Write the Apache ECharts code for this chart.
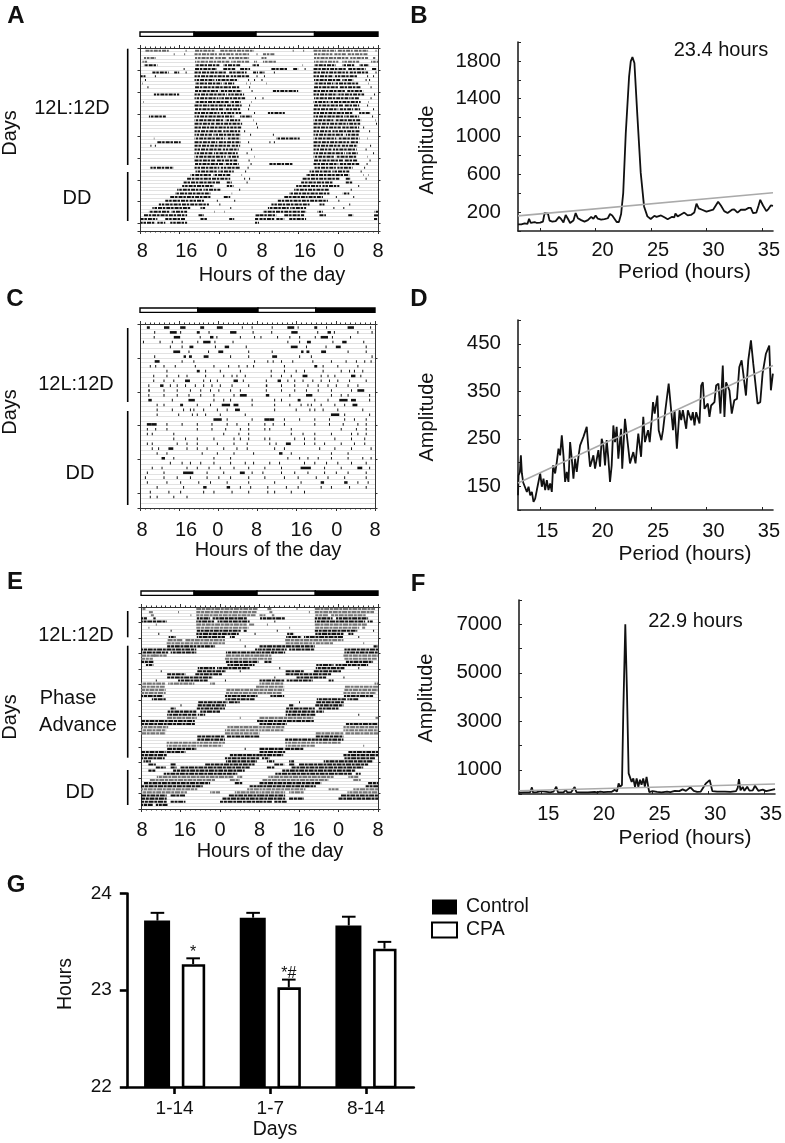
<!DOCTYPE html>
<html>
<head>
<meta charset="utf-8">
<title>Locomotor activity</title>
<script src="https://cdn.jsdelivr.net/npm/echarts@6/dist/echarts.min.js"></script>
<style>
  html, body { margin: 0; background: #fff; }
  #main { width: 785px; height: 1143px; }
</style>
</head>
<body>
<div id="main"></div>
<script>
// actogram days: hours after 08:00, [start, end] is a bout, a lone number is a short burst
const aDays = [
  [[1.1,5.8],9.2,[11.1,15],[16.2,23]],
  [6.8,8.9,[11,15.5],[15.9,18.9],[19.2,22],23.5],
  [[0.8,3.2],[11.1,14.8],[15.2,17.5],[17.9,22]],
  [[0.5,1.5],[11.1,18],[18.4,22],[23,23.6]],
  [[0.8,3.5],[11.1,16],[16.8,20.2],[22.6,24]],
  [[11.1,15.5],[16.8,19.2],[20.2,22.2],8.8],
  [[2.5,5.8],[6.9,7.9],9.2,[11,17.5],[18,21.5],[22.8,23.8]],
  [[0.1,1.1],3,[11,18],[18.3,22],23.5],
  [1,[11,15],[15.3,19.8],21.8,23],
  [0.5,[11.1,16.5],[16.8,19],21.5,22.2],
  [1.5,[11.1,15],[15.2,20],22],
  [[11.1,16],[16.3,20.5],22.5],
  [[2.8,7.9],[11,17.5],[17.8,21]],
  [[11,15.8],[16,21.2],23.2],
  [0.7,[11.1,18],[18.2,20.3],22.5],
  [[11,14],[14.2,20.5],22],
  [[11.1,17],[17.3,20.2],21.8],
  [[11,16],[16.3,19],[19.3,20.4],23],
  [[1.8,5.2],[11,19],[20.2,22.5]],
  [[11,17],[17.2,20.2],22.8],
  [[11,15],[15.3,20.6],23.4],
  [[11,18],[18.2,20.4],23.6],
  [[11,16.5],[16.8,20.2],21],
  [[11,14.5],[14.8,20.3],22.2],
  [2.8,[11,17.2],[17.5,20.2]],
  [[3.5,8.2],[11,15.6],[15.9,20.3],21.8],
  [2.1,3,[11,18.2],[18.5,20.2]],
  [[11,16.4],[16.7,19.9],22.4],
  [[11,14.6],[14.9,19.7],21.5],
  [[11,17.3],[17.6,19.9],23],
  [[11,15.2],[15.5,19.6],21.9],
  [[11.1,17],[17.3,19.9],22.3],
  [[2.1,6.8],[11,16],[16.3,20.2],21.7],
  [[11.2,15.5],[15.8,18.9],21.2],
  [[10.2,14.5],[14.8,18.2],20.5],
  [[9.5,18.2],21,22],
  [[8.8,16.2],[17.5,18.5],21.5],
  [[8.5,14.9],[17.5,18.9]],
  [[7.5,12.5],[12.8,16.2],20],
  [[7.1,14.2],18.5],
  [[6.1,14.2],[16.9,18.2]],
  [[5.1,9.8],[10,12.9],15.5,19],
  [[3.8,13.9],16],
  [[2.5,10.2],[12.2,13.2],18.2],
  [[1.8,6],[6.3,9.5],15,17],
  [[0.8,9.5],[11.8,12.9],[23.3,24]],
  [[0.1,3.5],[5.1,9.1],[12.2,13.5],[18,19],[23.2,24]],
  [[0.1,3.1],[3.5,5.1],[6.1,9.5],[23.2,24]],
  [],
  []
];
const cDays = [
  [[1.4,2],[4.9,6],[8.2,9.3],[12.3,13.1],[15.7,16.9],20.8,22.8],
  [2.9,[6.1,7.5],8.2,[11.6,12.2],14,[18.4,19.7],23],
  [2.8,[6.9,8.2],12.2,[14.3,15],15.6,20.4,23.3],
  [0.6,4,6.5,8.5,11.7,[12.9,14.4],15.2,18.9],
  [6.1,8.5,[10.1,10.9],15.3,[17.3,18.2],21.6],
  [[6.8,8.2],9.9,13.9,[16,17],22.1],
  [2.9,[8.9,9.4],[10,10.6],[13,14],18.4,22.1],
  [[3,4],8.5,10.9,23.3],
  [2,3.1,4.8,7.1,11.2,15,18,20.1,21.8,23.1],
  [5.4,[11.6,12.2],13.3,16.3,20.4],
  [2.7,5.4,7.8,9.5,13.3,17,18.7,19.7,21.4],
  [2.7,4.8,6.8,[9.2,10.2],12.9,14.3,15.7,[19.1,20],21],
  [1.7,[4.1,4.8],6.1,7.5,9.2,11.2,12.9,14.6,16.3,18.7,22.1],
  [[1.7,2],4.8,7.5,10.2,12.3,14.3,16,18.4,20.4],
  [1.7,4.8,7.5,9.9,12.3,15,19.1,[20.4,21.8]],
  [[1.7,2.4],6.5,[9.9,11.2],15,17,18.4,22.8],
  [3.4,4.8,[8.2,8.8],11.6,14.3,[16.7,18.4],[19.1,20.1],22.8],
  [3.4,6.5,8.8,10.2,10.9,12.9,15.7,17.7,[19.4,20.4]],
  [3.4,7.8,10.6,11.6,13.3,16.3,21.4],
  [[15,16.7],17.7,22.8],
  [[1.4,2.4],[2.4,3.4],5.4,8.5,11.6,14.6,17.7,19.7,22.1],
  [1.4,3.1,5.4,11.6,14.6,17.4,20.4,22.1],
  [1.4,2.4,6.8,17,20.1,22.1],
  [6.8,9.2,11.6,15,19.1,20.4,22.1],
  [1.4,2.4,7.5,9.5,11.6,15.7,19.1,21.8],
  [2.4,3.7,[5.8,6.8],9.5,11.6,13.6,17,19.7,21.8],
  [3.4,5.4,12.6,15.7,19.1,23.1],
  [[4.4,5.1],6.8,15,18.4],
  [6.1,8.5,10.2,12.3,15,18.4,21.4,23.1],
  [2.4,4.4,9.5,11.6,14,16.3,19.1,22.1],
  [1.4,4.8,[8.8,10.9],13.6,17,[20.4,21.4],22.8],
  [1,4.8,7.5,10.2,13.6,16,18.4,22.1],
  [1.4,5.4,8.2,11.9,14.3,17.7,22.1],
  [3.4,8.8,[12.9,13.6],[17.7,18.4],20.4,22.5],
  [2,5.8,8.2,12.9,15,18.7,22.1],
  [2,3.4,6.8,9.5],
  [],
  []
];
const eDays = [
  [[0.3,0.9],[11.2,23.6]],
  [[1.6,2.4],7.5,[11.2,23.4]],
  [[2,2.6],10,[11.2,23.2]],
  [[0,1.2],[2.5,3],[11.3,14],[14.5,21.5]],
  [[0.1,5.2],[11.2,14.8],[15.5,22]],
  [3,[11.2,21.4],[21.9,23]],
  [1.5,[11.2,21.8]],
  [6,[11.3,20.2],[20.8,21.4]],
  [3.5,[11.2,19.8],23],
  [[5.6,7],[11.3,17],[18,19]],
  [[5.4,8.5],[9,17],20],
  [[5.2,17]],
  [[5.3,11.2],[11.4,15],21],
  [[0,11.2],[23.1,24]],
  [[0,5.5],[6,11.2],[17.2,24]],
  [[0,3],[2.6,5.2],[17.2,24]],
  [[0,2.4],[17,24]],
  [[0,2.5],[17.2,23.8]],
  [[1,2.5],[17.5,23]],
  [[11.5,15],[15.4,22]],
  [4,[11.4,17.2],20],
  [[5.3,9],[11,16.5]],
  [[5.3,14.5]],
  [[7.5,13.5],3,17],
  [[0,5],[5.5,10.8],[14,15]],
  [[0,4.8],[23.3,24]],
  [[0,5],[17.3,24]],
  [[0,5],[17.2,24]],
  [[0,4.5],[17,23.6]],
  [[2.2,5],[17.1,23]],
  [[11.6,17.5],[17.8,20]],
  [[11.5,17.2],8],
  [[6,7],[11.3,17]],
  [[5.4,11.2],[12,16]],
  [[5.3,11.2],[11.5,13]],
  [[5.3,11.3],20],
  [[0,10.9],[23.5,24]],
  [[0,11]],
  [[0,5.5],[17.5,24]],
  [[0,5.1],[17,24]],
  [[0,5],[17,24]],
  [[11.4,17],[17.4,24]],
  [[11.4,17]],
  [[5.2,11.2],[11.3,17]],
  [[5.2,11.2],[11.4,16.5]],
  [[5.3,11.2],21],
  [[0,5],[5.2,9]],
  [[0,5.2],[18,24]],
  [[0,4.8],[17,24]],
  [[0.5,2],[17.2,23.5]],
  [[1.5,3],[6,7],[13,23]],
  [[3,5],[6,7.2],[8,22]],
  [[1.5,3],[6.5,21]],
  [[4.6,19.5]],
  [[3.2,18.7],[19.5,20.5]],
  [[1.8,15],[18,20]],
  [[0.6,14],[19,20.5]],
  [[0,12.5],[22,24]],
  [[0,11.4],[21.5,24]],
  [[0,9.3],[14,16],[19,24]],
  [[0,5.2],[6,9],[17.8,24]],
  [[0,5.2],[16.5,24]],
  [[0,5.2],[6,9],[16,24]],
  [[0,2.5],[3,5.5]],
  []
];
// rows that print lighter in the reference
const aLightRows = [0, 1, 2, 3];
const cLightRows = [];
const eLightRows = [0, 1, 2, 5, 6, 10, 11, 15, 16, 24, 25, 26, 27, 35, 38, 39, 40, 43, 44, 54, 55, 58, 59];

// light/dark bars above the actograms, hours on the 48 h axis
const aLightDark = [[0, 10.9], [10.9, 23.4], [23.4, 35.2], [35.2, 48]];
const cLightDark = [[0, 11.8], [11.8, 24.1], [24.1, 35.9], [35.9, 48]];
const eLightDark = [[0, 10.75], [10.75, 23.5], [23.5, 35.3], [35.3, 48]];

const hourLabels = ['8', '16', '0', '8', '16', '0', '8'];
const aLabelHours = [0.45, 9.35, 16.5, 24.6, 33.3, 40.1, 48];
const cLabelHours = [0.4, 9.4, 15.9, 23.8, 33, 40.2, 48];
const eLabelHours = [0.2, 8.9, 16, 24, 33, 40, 48];

// periodograms: [period, amplitude]
const bCurve = [
  [13,70],[13.3,70],[13.6,80],[13.85,75],[14,130],[14.15,85],[14.5,95],[14.7,85],[15,88],[15.1,75],[15.25,100],[15.4,190],
  [15.55,200],[15.7,185],[15.85,110],[16.1,100],[16.4,105],[16.7,150],[16.9,125],[17.1,90],[17.3,170],[17.5,130],[17.7,85],
  [18,110],[18.2,190],[18.4,135],[18.7,115],[19,100],[19.3,115],[19.6,150],[19.8,130],[20,165],[20.2,130],[20.5,120],[20.8,125],
  [21.1,135],[21.3,180],[21.5,165],[21.7,130],[21.9,95],[22.1,95],[22.3,180],[22.49,400],[22.72,1035],[23.02,1635],[23.17,1795],
  [23.32,1840],[23.5,1778],[23.77,1213],[24.07,615],[24.37,260],[24.67,155],[24.97,127],[25.3,160],[25.5,150],[25.9,165],[26.2,145],
  [26.5,125],[26.9,150],[27.1,145],[27.2,185],[27.4,155],[27.7,175],[28,195],[28.3,165],[28.6,170],[28.9,195],[29.1,290],[29.3,240],
  [29.6,225],[30,205],[30.3,215],[30.6,225],[31.05,310],[31.3,270],[31.6,210],[31.9,190],[32.3,225],[32.5,230],[32.8,195],[33.1,225],
  [33.5,225],[33.8,245],[34,245],[34.2,190],[34.5,195],[34.7,270],[34.85,330],[35.1,270],[35.4,210],[35.6,235],[35.8,270],[36,265]
];
const dCurve = [
  [13,131],[13.05,173],[13.17,180],[13.26,215],[13.35,177],[13.47,158],[13.65,156],[13.8,138],[13.95,149],[14.1,131],[14.25,138],
  [14.4,117],[14.55,124],[14.7,142],[14.85,145],[15,177],[15.15,149],[15.3,166],[15.45,142],[15.6,163],[15.75,142],[15.9,156],
  [16.05,138],[16.17,194],[16.35,177],[16.5,201],[16.65,229],[16.8,215],[16.95,257],[17.1,215],[17.25,159],[17.4,180],[17.55,159],
  [17.7,243],[17.85,208],[18,166],[18.15,208],[18.3,180],[18.45,212],[18.6,236],[18.9,254],[19.2,275],[19.35,229],[19.5,191],
  [19.8,215],[19.95,187],[20.25,226],[20.4,191],[20.55,250],[20.7,236],[20.85,194],[21,247],[21.15,208],[21.3,159],[21.45,194],
  [21.6,278],[21.75,243],[21.9,275],[22.05,208],[22.3,271],[22.4,187],[22.65,292],[22.8,261],[23.1,198],[23.4,222],[23.6,198],
  [23.85,261],[24.1,212],[24.3,296],[24.45,243],[24.6,247],[24.73,268],[24.88,243],[25.03,282],[25.18,327],[25.33,303],[25.57,341],
  [25.69,268],[25.93,247],[26.08,268],[26.29,310],[26.59,366],[26.83,306],[26.98,268],[27.12,310],[27.33,229],[27.57,310],[27.72,289],
  [27.87,310],[28.17,271],[28.32,310],[28.62,289],[28.77,306],[28.92,278],[29.07,306],[29.37,282],[29.52,362],[29.67,369],[29.82,313],
  [30.12,324],[30.27,296],[30.42,320],[30.72,327],[30.87,362],[31.08,366],[31.26,303],[31.47,404],[31.62,296],[31.77,369],[32.07,352],
  [32.28,303],[32.51,331],[32.75,334],[32.96,401],[33.17,415],[33.32,387],[33.56,341],[33.77,415],[34.01,457],[34.22,408],[34.4,408],
  [34.61,324],[34.85,327],[35.06,387],[35.36,429],[35.51,432],[35.66,446],[35.81,352],[35.99,387]
];
const fCurve = [
  [13,60],[13.5,65],[14,70],[14.1,80],[14.16,275],[14.25,70],[14.6,75],[15,120],[15.1,60],[15.8,65],[16.1,100],[16.35,300],[16.5,70],
  [17,70],[17.2,165],[17.35,65],[17.7,80],[18,290],[18.15,80],[18.6,70],[19.2,65],[19.8,90],[20,70],[20.3,100],[20.6,80],[21,90],
  [21.3,85],[21.6,170],[21.8,100],[21.95,440],[22.07,300],[22.25,370],[22.37,3380],[22.55,7000],[22.7,4200],[22.85,850],[22.97,850],
  [23.12,500],[23.27,640],[23.42,300],[23.57,640],[23.72,300],[23.87,590],[24.01,380],[24.16,640],[24.31,300],[24.46,710],[24.61,300],
  [24.7,80],[25,120],[25.4,90],[25.8,70],[26.3,100],[26.6,80],[27,130],[27.4,120],[27.7,190],[28,130],[28.4,275],[28.7,130],[29,90],
  [29.33,100],[29.8,440],[30.13,575],[30.37,120],[30.8,100],[31.5,95],[32,90],[32.5,120],[32.65,250],[32.76,615],[32.9,150],[33.1,290],
  [33.25,130],[33.5,300],[33.7,140],[34,150],[34.2,340],[34.5,130],[34.9,180],[35.2,120],[35.6,160],[36,200]
];
// significance lines
const bLimit = [[13, 160], [36, 404]];
const dLimit = [[13, 157], [36, 404]];
const fLimit = [[13, 137], [36, 410]];

const periodTicks = [15, 20, 25, 30, 35];
const bAmpLabels = [200, 600, 1000, 1400, 1800];
const dAmpLabels = [150, 250, 350, 450];
const fAmpLabels = [1000, 3000, 5000, 7000];

// bar chart
const dayGroups = ['1-14', '1-7', '8-14'];
const controlHours = [23.72, 23.75, 23.67];
const cpaHours = [23.27, 23.03, 23.43];
const controlErrTop = [23.80, 23.80, 23.76];
const cpaErrTop = [23.33, 23.11, 23.50];
const cpaMarks = ['*', '*#', ''];

const FONT = '"Liberation Sans", Arial, sans-serif';
const INK = '#111';

const grids = [], xAxes = [], yAxes = [], series = [];

function doublePlot(days, lightRows) {
  const out = [];
  const spans = d => d.map(b => (Array.isArray(b) ? b : [b, b + 0.2]));
  days.forEach((day, row) => {
    const shade = lightRows.includes(row) ? 1 : 0;
    spans(day).forEach(b => out.push([row, b[0], b[1], shade]));
    if (days[row + 1]) spans(days[row + 1]).forEach(b => out.push([row, b[0] + 24, b[1] + 24, shade]));
  });
  return out;
}

function addActogram(box, days, lightRows, lightDark, labelHours, look) {
  const g = grids.length;
  grids.push(box);
  const frame = { show: true, onZero: false, lineStyle: { color: '#333', width: 1 } };
  const xBase = { type: 'value', gridIndex: g, min: 0, max: 48, interval: 8, axisLine: frame,
    axisTick: { show: true, length: 3, lineStyle: { color: '#333' } },
    minorTick: { show: true, splitNumber: 8, length: 1.5, lineStyle: { color: '#333' } },
    splitLine: { show: false } };
  const xi = xAxes.length;
  xAxes.push(Object.assign({}, xBase, {
    position: 'bottom',
    axisLabel: { show: true, customValues: labelHours, margin: look.labelMargin, fontFamily: FONT, fontSize: 20, color: INK,
      formatter: v => hourLabels[labelHours.indexOf(v)] }
  }));
  xAxes.push(Object.assign({}, xBase, { position: 'top', axisLabel: { show: false } }));
  const yBase = { type: 'value', gridIndex: g, inverse: true, min: 0, max: days.length, interval: look.rowTick, axisLine: frame,
    axisTick: { show: true, length: 2.5, lineStyle: { color: '#333' } }, axisLabel: { show: false } };
  const yi = yAxes.length;
  yAxes.push(Object.assign({}, yBase, { position: 'left',
    splitLine: { show: true, lineStyle: { color: '#e2e2e2', width: 1 } },
    minorSplitLine: { show: true, lineStyle: { color: '#e2e2e2', width: 1 } },
    minorTick: { show: false, splitNumber: look.rowTick } }));
  yAxes.push(Object.assign({}, yBase, { position: 'right', splitLine: { show: false } }));

  series.push({
    type: 'custom', xAxisIndex: xi, yAxisIndex: yi, silent: true, clip: true,
    data: doublePlot(days, lightRows),
    encode: { x: [1, 2], y: 0 },
    renderItem: (params, api) => {
      const a = api.coord([api.value(1), api.value(0) + 1]);
      const b = api.coord([api.value(2), api.value(0) + 1]);
      const y = a[1] - look.barH / 2;
      // staggering the dash per row keeps the bouts from lining up in columns
      return { type: 'line', shape: { x1: a[0], y1: y, x2: Math.max(b[0], a[0] + 1), y2: y },
        style: { stroke: api.value(3) ? look.stripe : INK, lineWidth: look.barH, lineDash: look.dash, lineDashOffset: (api.value(0) % 5) * 0.9 } };
    }
  });
  // light / dark bar, every other segment black
  series.push({
    type: 'custom', xAxisIndex: xi, yAxisIndex: yi, silent: true, clip: false,
    data: lightDark.map((s, i) => [s[0], s[1], i % 2]),
    encode: { x: [0, 1] },
    renderItem: (params, api) => {
      const a = api.coord([api.value(0), 0]);
      const b = api.coord([api.value(1), 0]);
      return { type: 'rect', shape: { x: a[0], y: params.coordSys.y - 16, width: b[0] - a[0], height: 4.4 },
        style: { fill: api.value(2) ? '#000' : '#fff', stroke: '#000', lineWidth: 1.4 } };
    }
  });
}

function addPeriodogram(box, curve, limit, yMin, yMax, yInterval, ampLabels, look) {
  const g = grids.length;
  grids.push(box);
  const line = { show: true, onZero: false, lineStyle: { color: '#222', width: 1.6 } };
  const xi = xAxes.length, yi = yAxes.length;
  xAxes.push({ type: 'value', gridIndex: g, min: 13, max: 36, axisLine: line, splitLine: { show: false },
    axisTick: { show: true, inside: true, length: 3, customValues: periodTicks, lineStyle: { color: '#222' } },
    axisLabel: { show: true, customValues: periodTicks, margin: look.xMargin, padding: [0, 0, 0, 14], fontFamily: FONT, fontSize: 20, color: INK } });
  yAxes.push({ type: 'value', gridIndex: g, min: yMin, max: yMax, interval: yInterval, axisLine: line, splitLine: { show: false },
    axisTick: { show: true, inside: true, length: 3, lineStyle: { color: '#222' } },
    axisLabel: { show: true, customValues: ampLabels, margin: 17, padding: [look.yDrop, 0, 0, 0], fontFamily: FONT, fontSize: 20.5, color: INK,
      formatter: v => String(v) } });
  series.push({ type: 'line', xAxisIndex: xi, yAxisIndex: yi, data: curve, showSymbol: false, silent: true,
    lineStyle: { color: INK, width: 1.8 } });
  series.push({ type: 'line', xAxisIndex: xi, yAxisIndex: yi, data: limit, showSymbol: false, silent: true,
    lineStyle: { color: '#aaa', width: 1.6 } });
}

addActogram({ left: 140, top: 48, width: 238, height: 183 }, aDays, aLightRows, aLightDark, aLabelHours,
  { barH: 2, rowTick: 6, stripe: '#666', dash: [4, 0.8, 2.5, 1], labelMargin: 10 });
addPeriodogram({ left: 518, top: 42, width: 255, height: 189 }, bCurve, bLimit, 0, 2000, 200, bAmpLabels, { xMargin: 9, yDrop: 12 });
addActogram({ left: 140, top: 324, width: 235, height: 184 }, cDays, cLightRows, cLightDark, cLabelHours,
  { barH: 2.6, rowTick: 7, stripe: '#555', dash: null, labelMargin: 12 });
addPeriodogram({ left: 518, top: 320, width: 255, height: 190 }, dCurve, dLimit, 100, 500, 50, dAmpLabels, { xMargin: 11, yDrop: 0 });
addActogram({ left: 141, top: 607, width: 237, height: 202 }, eDays, eLightRows, eLightDark, eLabelHours,
  { barH: 2.1, rowTick: 5, stripe: '#777', dash: [5, 0.7, 3, 0.7], labelMargin: 11 });
addPeriodogram({ left: 519, top: 600, width: 257, height: 194 }, fCurve, fLimit, 0, 8000, 1000, fAmpLabels, { xMargin: 10, yDrop: 0 });

// panel G
const gi = grids.length;
grids.push({ left: 126.8, top: 893.5, width: 287, height: 193.5 });
const gx = xAxes.length, gy = yAxes.length;
const thick = { show: true, onZero: false, lineStyle: { color: '#000', width: 2.6 } };
xAxes.push({ type: 'category', gridIndex: gi, data: dayGroups, axisLine: thick,
  axisTick: { show: true, alignWithLabel: true, length: 7, lineStyle: { color: '#000', width: 2.6 } },
  axisLabel: { margin: 12, fontFamily: FONT, fontSize: 19, color: INK } });
yAxes.push({ type: 'value', gridIndex: gi, min: 22, max: 24, interval: 1, axisLine: thick, splitLine: { show: false },
  axisTick: { show: true, length: 7, lineStyle: { color: '#000', width: 2.6 } },
  axisLabel: { margin: 15, padding: [5, 0, 0, 0], fontFamily: FONT, fontSize: 19, color: INK } });
series.push({ name: 'Control', type: 'bar', xAxisIndex: gx, yAxisIndex: gy, data: controlHours, barWidth: 26, barGap: '45%', silent: true,
  itemStyle: { color: '#000', borderColor: '#000', borderWidth: 0 } });
series.push({ name: 'CPA', type: 'bar', xAxisIndex: gx, yAxisIndex: gy, data: cpaHours, barWidth: 23.4, silent: true,
  itemStyle: { color: '#fff', borderColor: '#000', borderWidth: 2.6 } });

function errorBars(tops, values, shift, marks) {
  series.push({
    type: 'custom', xAxisIndex: gx, yAxisIndex: gy, silent: true, clip: false,
    data: tops.map((t, i) => [i, values[i], t, marks ? marks[i] : '']),
    encode: { x: 0, y: [1, 2] },
    renderItem: (params, api) => {
      const low = api.coord([api.value(0), api.value(1)]);
      const high = api.coord([api.value(0), api.value(2)]);
      const x = low[0] + shift;
      const style = { stroke: '#000', lineWidth: 2 };
      const parts = [
        { type: 'line', shape: { x1: x, y1: low[1], x2: x, y2: high[1] }, style },
        { type: 'line', shape: { x1: x - 6.8, y1: high[1], x2: x + 6.8, y2: high[1] }, style }
      ];
      const mark = api.value(3);
      if (mark) parts.push({ type: 'text', x: x, y: high[1] - 6, style: { text: mark, align: 'center', verticalAlign: 'middle',
        font: '16px ' + FONT, fill: INK } });
      return { type: 'group', children: parts };
    }
  });
}
errorBars(controlErrTop, controlHours, -17.2);
errorBars(cpaErrTop, cpaHours, 18.5, cpaMarks);

function label(x, y, text, size, extra) {
  return Object.assign({ type: 'text', x, y, silent: true, style: { text, fill: INK, align: 'center', verticalAlign: 'middle',
    font: (extra && extra.bold ? 'bold ' : '') + size + 'px ' + FONT } }, extra && extra.rotation ? { rotation: extra.rotation } : {});
}
function rule(x, y1, y2) {
  return { type: 'line', silent: true, shape: { x1: x, y1, x2: x, y2 }, style: { stroke: '#000', lineWidth: 1.6 } };
}
const UP = Math.PI / 2;
const graphics = [
  label(16, 16.5, 'A', 24, { bold: true }), label(419, 16.5, 'B', 24, { bold: true }),
  label(15, 299, 'C', 24, { bold: true }), label(419, 299, 'D', 24, { bold: true }),
  label(15, 582, 'E', 24, { bold: true }), label(418, 584, 'F', 24, { bold: true }),
  label(16, 885.5, 'G', 24, { bold: true }),

  label(10, 133, 'Days', 20, { rotation: UP }), label(72, 108, '12L:12D', 20), label(77, 198, 'DD', 20),
  rule(127.7, 48.7, 165), rule(127.7, 172, 221), label(272, 275, 'Hours of the day', 20),
  label(427, 150, 'Amplitude', 20, { rotation: UP }), label(684.5, 272, 'Period (hours)', 21), label(721, 50.7, '23.4 hours', 20),

  label(10, 412, 'Days', 20, { rotation: UP }), label(76, 384, '12L:12D', 20), label(80, 473, 'DD', 20),
  rule(127.7, 328, 402), rule(127.7, 411, 505), label(268, 550, 'Hours of the day', 20),
  label(427, 417, 'Amplitude', 20, { rotation: UP }), label(685, 554, 'Period (hours)', 21),

  label(10, 717, 'Days', 20, { rotation: UP }), label(76, 635, '12L:12D', 20), label(68, 698, 'Phase', 20),
  label(78, 725, 'Advance', 20), label(80, 792, 'DD', 20),
  rule(127.7, 611, 637.3), rule(127.7, 645.7, 757.7), rule(127.7, 770, 805), label(270, 851.7, 'Hours of the day', 20),
  label(426, 698, 'Amplitude', 20, { rotation: UP }), label(685, 838, 'Period (hours)', 21), label(695.5, 621.7, '22.9 hours', 20),

  label(66, 984, 'Hours', 19.5, { rotation: UP }), label(275, 1130, 'Days', 19.5)
];

const chart = echarts.init(document.getElementById('main'));
chart.setOption({
  animation: false,
  backgroundColor: '#fff',
  textStyle: { fontFamily: FONT },
  grid: grids,
  xAxis: xAxes,
  yAxis: yAxes,
  series,
  legend: { show: true, data: ['Control', 'CPA'], icon: 'rect', orient: 'vertical', left: 431, top: 897, padding: 0, itemWidth: 25, itemHeight: 15,
    itemGap: 3, selectedMode: false, textStyle: { fontFamily: FONT, fontSize: 19.5, color: INK, padding: [0, 0, 0, 4] } },
  graphic: graphics
});
</script>
</body>
</html>
